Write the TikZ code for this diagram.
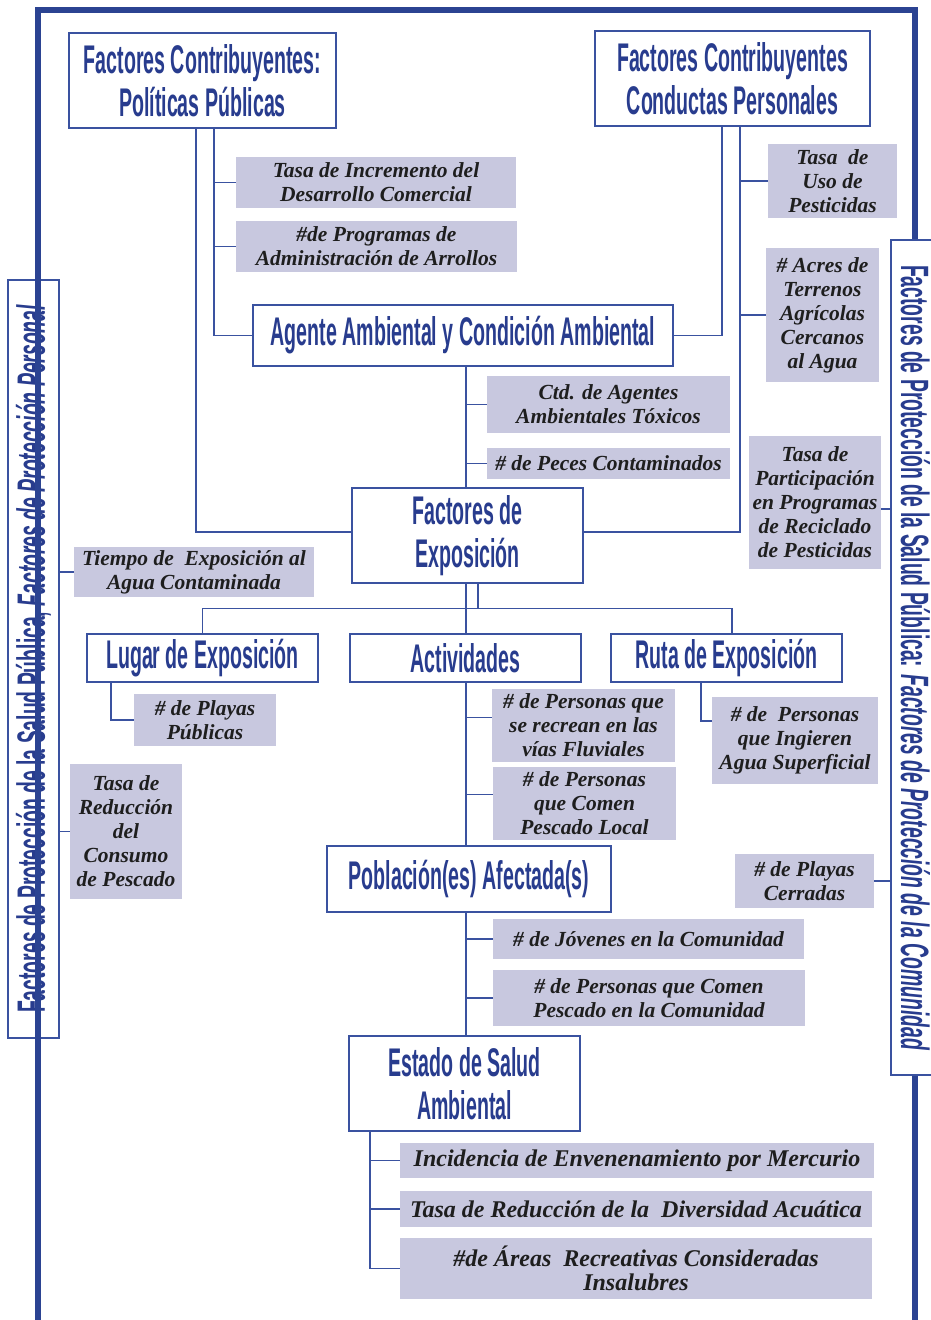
\documentclass[tikz,border=0pt]{standalone}
\usepackage{fontspec}
\usetikzlibrary{positioning, calc}
\newfontfamily\headFont[FakeStretch=0.49]{Liberation Sans}
\newfontfamily\metricFont{Liberation Serif}
\definecolor{frameBlue}{HTML}{2B4392}
\definecolor{lineBlue}{HTML}{3A52A0}
\definecolor{textBlue}{HTML}{283C8E}
\definecolor{metricGray}{HTML}{C8C8DF}
\definecolor{textDark}{HTML}{1E1E1E}

\begin{document}
\begin{tikzpicture}[x=1pt, y=-1pt,
    headBox/.style={draw=lineBlue, line width=1.5pt, fill=white, text=textBlue, align=center, inner sep=0pt, font=\headFont\bfseries\fontsize{40}{43}\selectfont},
    metricBox/.style={fill=metricGray, text=textDark, align=center, inner sep=0pt, font=\metricFont\bfseries\itshape\fontsize{21.5}{24}\selectfont},
    bigMetric/.style={metricBox, font=\metricFont\bfseries\itshape\fontsize{24}{24}\selectfont},
    sideBox/.style={draw=lineBlue, line width=1.5pt, fill=white, text=textBlue, inner sep=0pt, font=\headFont\bfseries\fontsize{39.5}{40}\selectfont},
    connLine/.style={draw=lineBlue, line width=1.5pt},
    frameLine/.style={draw=frameBlue, line width=6pt}
]
    \useasboundingbox (0,0) rectangle (930,1320);

    % Left side band, frame, right side band
    \node[sideBox, rotate=90, minimum width=758, minimum height=51] (sideL) at (33.5,659)
        {Factores de Protección de la Salud Pública, \itshape Factores de Protección Personal};
    \draw[frameLine] (38,1320) -- (38,10) -- (915,10) -- (915,1320);
    \node[sideBox, rotate=-90, minimum width=835, minimum height=49] (sideR) at (915.5,657.5)
        {Factores de Protección de la Salud Pública: \itshape Factores de Protección de la Comunidad};

    % Main chain
    \node[headBox, minimum width=267, minimum height=95] (pol) at (202.5,80.5) {Factores Contribuyentes:\\Políticas Públicas};
    \node[headBox, minimum width=275, minimum height=95] (cond) at (732.5,78.5) {Factores Contribuyentes\\Conductas Personales};
    \node[headBox, minimum width=420, minimum height=61] (agente) at (463,335.5) {Agente Ambiental y Condición Ambiental};
    \node[headBox, minimum width=231, minimum height=95] (expo) at (467.5,535.5) {Factores de\\Exposición};
    \node[headBox, minimum width=231, minimum height=48] (lugar) at (202.5,658) {Lugar de Exposición};
    \node[headBox, minimum width=231, minimum height=48] (activ) at (465.5,658) {Actividades};
    \node[headBox, minimum width=231, minimum height=48] (ruta) at (726.5,658) {Ruta de Exposición};
    \node[headBox, minimum width=284, minimum height=66] (pobla) at (469,879) {Población(es) Afectada(s)};
    \node[headBox, minimum width=231, minimum height=95] (estado) at (464.5,1083.5) {Estado de Salud\\Ambiental};

    % Indicators
    \node[metricBox, minimum width=280, minimum height=51] (inc) at (376,182.5) {Tasa de Incremento del\\Desarrollo Comercial};
    \node[metricBox, minimum width=281, minimum height=51] (prog) at (376.5,246.5) {\#de Programas de\\Administración de Arrollos};
    \node[metricBox, minimum width=129, minimum height=74] (uso) at (832.5,181) {Tasa~~de\\Uso de\\Pesticidas};
    \node[metricBox, minimum width=113, minimum height=134] (acres) at (822.5,315) {\# Acres de\\Terrenos\\Agrícolas\\Cercanos\\al Agua};
    \node[metricBox, minimum width=243, minimum height=57] (ctd) at (608.5,404.5) {Ctd. de Agentes\\Ambientales Tóxicos};
    \node[metricBox, minimum width=243, minimum height=31] (peces) at (608.5,463.5) {\# de Peces Contaminados};
    \node[metricBox, minimum width=132, minimum height=133] (partic) at (815,502.5) {Tasa de\\Participación\\en Programas\\de Reciclado\\de Pesticidas};
    \node[metricBox, minimum width=240, minimum height=50] (tiempo) at (194,572) {Tiempo de~~Exposición al\\Agua Contaminada};
    \node[metricBox, minimum width=112, minimum height=135] (reduc) at (126,831.5) {Tasa de\\Reducción\\del\\Consumo\\de Pescado};
    \node[metricBox, minimum width=142, minimum height=52] (playasp) at (205,720) {\# de Playas\\Públicas};
    \node[metricBox, minimum width=183, minimum height=73] (recrean) at (583.5,725.5) {\# de Personas que\\se recrean en las\\vías Fluviales};
    \node[metricBox, minimum width=183, minimum height=73] (comenloc) at (584.5,803.5) {\# de Personas\\que Comen\\Pescado Local};
    \node[metricBox, minimum width=166, minimum height=87] (ingieren) at (795,740.5) {\# de~~Personas\\que Ingieren\\Agua Superficial};
    \node[metricBox, minimum width=139, minimum height=54] (cerradas) at (804.5,881) {\# de Playas\\Cerradas};
    \node[metricBox, minimum width=311, minimum height=40] (jovenes) at (648.5,939) {\# de Jóvenes en la Comunidad};
    \node[metricBox, minimum width=312, minimum height=56] (comencom) at (649,998) {\# de Personas que Comen\\Pescado en la Comunidad};
    \node[bigMetric, minimum width=474, minimum height=35] (mercurio) at (637,1160.5) {Incidencia de Envenenamiento por Mercurio};
    \node[bigMetric, minimum width=472, minimum height=36] (diversidad) at (636,1209) {Tasa de Reducción de la~~Diversidad Acuática};
    \node[bigMetric, minimum width=472, minimum height=61] (areas) at (636,1268.5) {\#de Áreas~~Recreativas Consideradas\\Insalubres};

    % Policies
    \coordinate (polL) at ([xshift=-6.5]pol.south);
    \coordinate (polR) at ([xshift=11.5]pol.south);
    \coordinate (expoW) at ([yshift=3.5]expo.west);
    \coordinate (expoE) at ([yshift=3.5]expo.east);
    \draw[connLine] (polL) |- (expoW);
    \draw[connLine] (polR) |- (agente.west);
    \draw[connLine] (polR |- inc.west) -- (inc.west);
    \draw[connLine] (polR |- prog.west) -- (prog.west);

    % Personal conduct
    \coordinate (condL) at ([xshift=-10.5]cond.south);
    \coordinate (condR) at ([xshift=7.5]cond.south);
    \draw[connLine] (condL) |- (agente.east);
    \draw[connLine] (condR) |- (expoE);
    \draw[connLine] (condR |- uso.west) -- (uso.west);
    \draw[connLine] (condR |- acres.west) -- (acres.west);

    % Agent
    \coordinate (agDown) at ([xshift=3]agente.south);
    \draw[connLine] (agDown) -- (agDown |- expo.north);
    \draw[connLine] (agDown |- ctd.west) -- (ctd.west);
    \draw[connLine] (agDown |- peces.west) -- (peces.west);

    % Exposure
    \coordinate (hub) at ($(expo.south)!0.5!(activ.north)$);
    \coordinate (exA) at ([xshift=-1.5]expo.south);
    \coordinate (exB) at ([xshift=10.5]expo.south);
    \coordinate (rutaIn) at ([xshift=5.5]ruta.north);
    \draw[connLine] (exA) -- (exA |- activ.north);
    \draw[connLine] (exB) -- (exB |- hub);
    \draw[connLine] (lugar.north) -- (lugar.north |- hub) -- (rutaIn |- hub) -- (rutaIn);

    % Place, activities, route
    \coordinate (lugDown) at ([xshift=-91.5]lugar.south);
    \draw[connLine] (lugDown) |- (playasp.west);
    \coordinate (acDown) at ([xshift=0.5]activ.south);
    \coordinate (recreanIn) at ([yshift=8]recrean.west);
    \coordinate (comenlocIn) at ([yshift=9]comenloc.west);
    \draw[connLine] (acDown) -- (acDown |- pobla.north);
    \draw[connLine] (acDown |- recreanIn) -- (recreanIn);
    \draw[connLine] (acDown |- comenlocIn) -- (comenlocIn);
    \coordinate (rutaDown) at ([xshift=-25.5]ruta.south);
    \coordinate (ingIn) at ([yshift=19.5]ingieren.west);
    \draw[connLine] (rutaDown) |- (ingIn);

    % Population
    \coordinate (poDown) at ([xshift=-3]pobla.south);
    \draw[connLine] (poDown) -- (poDown |- estado.north);
    \draw[connLine] (poDown |- jovenes.west) -- (jovenes.west);
    \draw[connLine] (poDown |- comencom.west) -- (comencom.west);

    % Health status
    \coordinate (esDown) at ([xshift=-94.5]estado.south);
    \draw[connLine] (esDown) |- (areas.west);
    \draw[connLine] (esDown |- mercurio.west) -- (mercurio.west);
    \draw[connLine] (esDown |- diversidad.west) -- (diversidad.west);

    % Side bands
    \draw[connLine] (sideL.south |- tiempo.west) -- (tiempo.west);
    \draw[connLine] (sideL.south |- reduc.west) -- (reduc.west);
    \coordinate (particOut) at ([yshift=-6.5]partic.east);
    \draw[connLine] (particOut) -- (particOut -| sideR.south);
    \draw[connLine] (cerradas.east) -- (cerradas.east -| sideR.south);
\end{tikzpicture}
\end{document}
